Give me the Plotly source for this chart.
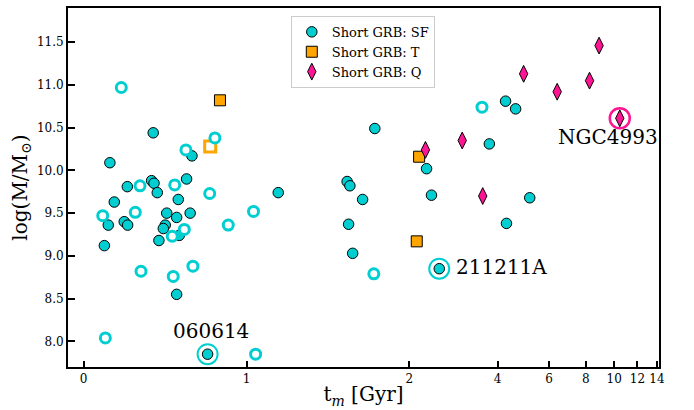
import numpy as np
import plotly.graph_objects as go

# ---- data (t_m in Gyr, log stellar mass) ----
sf_t = [0.161, 0.427, 0.665, 0.417, 0.432, 0.452, 0.268, 0.632, 0.581, 0.188,
        0.510, 0.571, 0.654, 0.151, 0.249, 0.270, 0.501, 0.489, 0.587, 0.462,
        0.127, 0.571, 0.761, 1.195, 1.788, 1.618, 1.635, 1.713, 1.627, 1.652,
        2.29, 2.38, 2.53, 3.75, 4.26, 4.61, 4.29, 5.15]
sf_m = [10.09, 10.44, 10.17, 9.88, 9.85, 9.74, 9.81, 9.90, 9.66, 9.63,
        9.50, 9.45, 9.50, 9.36, 9.40, 9.36, 9.36, 9.32, 9.24, 9.18,
        9.12, 8.55, 7.85, 9.74, 10.49, 9.87, 9.82, 9.66, 9.37, 9.03,
        10.02, 9.71, 8.85, 10.31, 10.81, 10.72, 9.38, 9.68]

sfo_t = [0.231, 0.806, 0.628, 0.346, 0.559, 0.774, 0.117, 0.317, 1.043, 0.888,
         0.618, 0.544, 0.352, 0.550, 0.671, 0.133, 1.056, 1.782, 3.54]
sfo_m = [10.97, 10.38, 10.24, 9.82, 9.83, 9.73, 9.47, 9.51, 9.52, 9.36,
         9.31, 9.23, 8.82, 8.76, 8.88, 8.04, 7.85, 8.79, 10.74]

t_t = [0.837, 2.16, 2.12]
t_m = [10.82, 10.16, 9.17]
to_t = [0.777]
to_m = [10.28]

q_t = [2.27, 3.03, 3.56, 4.91, 6.39, 8.24, 8.88, 10.45]
q_m = [10.24, 10.35, 9.70, 11.13, 10.92, 11.05, 11.46, 10.61]

ring_sf_t = [0.761, 2.53]
ring_sf_m = [7.85, 8.85]
ring_q_t = [10.45]
ring_q_m = [10.61]

labels = ["060614", "211211A", "NGC4993"]
label_t = [0.78, 2.83, 9.5]
label_m = [8.12, 8.87, 10.39]
label_anchor = ["center", "left", "center"]

xticks = [0, 1, 2, 4, 6, 8, 10, 12, 14]
yticks = [8.0, 8.5, 9.0, 9.5, 10.0, 10.5, 11.0, 11.5]

# symlog transform (linthresh=2, base 10, linscale=1), like matplotlib
LT = 2.0
LS = 1.0 / (1.0 - 1.0 / 10.0)


def symlog(v):
    v = np.asarray(v, dtype=float)
    out = np.where(np.abs(v) <= LT, v * LS,
                   np.sign(v) * LT * (LS + np.log10(np.maximum(np.abs(v), 1e-12) / LT)))
    return out


CYAN = "#00CED1"
ORANGE = "#FFA500"
PINK = "#FF1493"
FONT = "DejaVu Serif"

fig = go.Figure()

# rings (behind)
fig.add_trace(go.Scatter(x=symlog(ring_sf_t), y=ring_sf_m, mode="markers",
                         marker=dict(symbol="circle", size=20, color="white",
                                     line=dict(color=CYAN, width=2)),
                         showlegend=False, hoverinfo="skip"))
fig.add_trace(go.Scatter(x=symlog(ring_q_t), y=ring_q_m, mode="markers",
                         marker=dict(symbol="circle", size=20, color="white",
                                     line=dict(color=PINK, width=2.5)),
                         showlegend=False, hoverinfo="skip"))

# T squares
fig.add_trace(go.Scatter(x=symlog(to_t), y=to_m, mode="markers",
                         marker=dict(symbol="square", size=11, color="white",
                                     line=dict(color=ORANGE, width=3)),
                         showlegend=False))
fig.add_trace(go.Scatter(x=symlog(t_t), y=t_m, mode="markers", name="Short GRB: T",
                         legendrank=2,
                         marker=dict(symbol="square", size=11, color=ORANGE,
                                     line=dict(color="black", width=1))))
# SF circles
fig.add_trace(go.Scatter(x=symlog(sf_t), y=sf_m, mode="markers", name="Short GRB: SF",
                         legendrank=1,
                         marker=dict(symbol="circle", size=10.5, color=CYAN,
                                     line=dict(color="black", width=1))))
fig.add_trace(go.Scatter(x=symlog(sfo_t), y=sfo_m, mode="markers",
                         marker=dict(symbol="circle", size=10, color="white",
                                     line=dict(color=CYAN, width=3)),
                         showlegend=False))
# Q diamonds
fig.add_trace(go.Scatter(x=symlog(q_t), y=q_m, mode="markers", name="Short GRB: Q",
                         legendrank=3,
                         marker=dict(symbol="diamond-tall", size=12, color=PINK,
                                     line=dict(color="black", width=1))))

tx = symlog(label_t)
for txt, xx, yy, anc in zip(labels, tx, label_m, label_anchor):
    fig.add_annotation(x=xx, y=yy, xref="x", yref="y", text=txt, showarrow=False,
                       xanchor=anc, yanchor="middle",
                       font=dict(family=FONT, size=20, color="black"))

fig.update_layout(
    width=694, height=410,
    margin=dict(l=68, r=35, t=6, b=43),
    paper_bgcolor="white", plot_bgcolor="white",
    font=dict(family=FONT, color="black"),
    legend=dict(x=0.377, y=0.978, xanchor="left", yanchor="top",
                bgcolor="rgba(255,255,255,0.8)", bordercolor="#cccccc", borderwidth=1,
                font=dict(family=FONT, size=13, color="black"),
                traceorder="normal"),
)
fig.update_xaxes(range=[-0.107, 3.926], tickmode="array",
                 tickvals=list(symlog(xticks)), ticktext=[str(v) for v in xticks],
                 showline=True, linecolor="black", linewidth=2, mirror=True,
                 ticks="inside", ticklen=6, tickwidth=2, tickcolor="black",
                 showgrid=False, zeroline=False,
                 tickfont=dict(family=FONT, size=12, color="black"),
                 title=dict(text="t<sub><i>m</i></sub> [Gyr]",
                            font=dict(family=FONT, size=20, color="black"), standoff=2))
fig.update_yaxes(range=[7.7, 11.9], tickmode="array",
                 tickvals=yticks, ticktext=[f"{v:.1f}" for v in yticks],
                 showline=True, linecolor="black", linewidth=2, mirror=True,
                 ticks="inside", ticklen=7, tickwidth=2, tickcolor="black",
                 showgrid=False, zeroline=False,
                 tickfont=dict(family=FONT, size=12, color="black"),
                 title=dict(text="log(M/M<sub>⊙</sub>)",
                            font=dict(family=FONT, size=20, color="black"), standoff=4))

fig.write_html("out.html")
